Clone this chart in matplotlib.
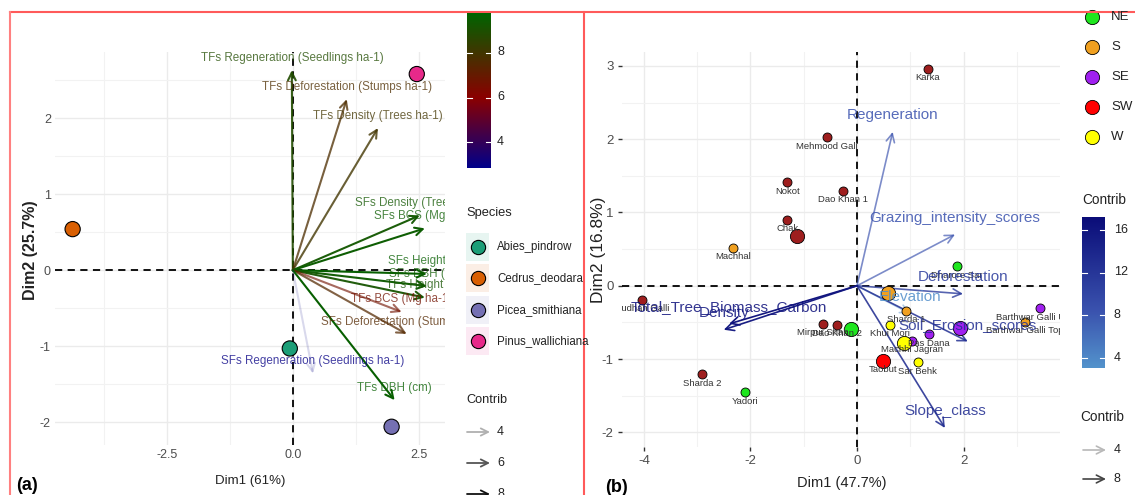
import numpy as np
import matplotlib
matplotlib.use('Agg')
import matplotlib.pyplot as plt
from matplotlib.colors import LinearSegmentedColormap, Normalize
from matplotlib.patches import Rectangle

plt.rcParams['font.family'] = ['Liberation Sans', 'DejaVu Sans']

# ---------------- panel (a): species ----------------
species = ['Abies_pindrow', 'Cedrus_deodara', 'Picea_smithiana', 'Pinus_wallichiana']
species_x = [-0.06, -4.37, 1.96, 2.46]
species_y = [-1.03, 0.54, -2.06, 2.58]
species_colors = ['#1B9E77', '#D95F02', '#7570B3', '#E7298A']

vars_a = ['TFs Regeneration (Seedlings ha-1)', 'TFs Deforestation (Stumps ha-1)',
          'TFs Density (Trees ha-1)', 'SFs Density (Trees ha-1)', 'SFs BCS (Mg ha-1)',
          'SFs Height (m)', 'SFs DBH (cm)', 'TFs Height (m)', 'TFs BCS (Mg ha-1)',
          'SFs Deforestation (Stumps ha-1)', 'TFs DBH (cm)', 'SFs Regeneration (Seedlings ha-1)']
vars_a_x = [-0.02, 1.07, 1.69, 2.52, 2.62, 2.66, 2.66, 2.62, 2.16, 2.26, 2.02, 0.40]
vars_a_y = [2.63, 2.25, 1.87, 0.72, 0.55, -0.05, -0.21, -0.36, -0.55, -0.84, -1.71, -1.36]
vars_a_contrib = [8.9, 7.7, 8.0, 9.3, 9.5, 9.6, 9.4, 9.2, 6.7, 7.5, 9.6, 3.0]

# ---------------- panel (b): sites ----------------
sites = ['Karka', 'Mehmood Gali', 'Nokot', 'Dao Khan 1', 'Chak', 'Sudhan Galli', 'Sharda 2',
         'Mirpur Shah', 'Dao Khan 2', 'Yadori', 'Dharore Sar', 'Machhal', 'Sharda 1',
         'Barthwar Galli Top', 'Pas Dana', 'Machhi Jagran', 'Barthwar Galli Upper',
         'Taobut', 'Khui Mori', 'Sar Behk']
sites_x = [1.33, -0.56, -1.31, -0.26, -1.31, -4.03, -2.91, -0.64, -0.38, -2.10, 1.87, -2.33,
           0.92, 3.15, 1.35, 1.03, 3.43, 0.49, 0.62, 1.14]
sites_y = [2.96, 2.03, 1.41, 1.30, 0.90, -0.19, -1.21, -0.52, -0.53, -1.45, 0.27, 0.52,
           -0.34, -0.49, -0.66, -0.75, -0.31, -1.02, -0.53, -1.04]
sites_aspect = ['N', 'N', 'N', 'N', 'N', 'N', 'N', 'N', 'N', 'NE', 'NE', 'S', 'S', 'S',
                'SE', 'SE', 'SE', 'SW', 'W', 'W']
aspects = ['N', 'NE', 'S', 'SE', 'SW', 'W']
aspect_colors = ['#9E1E1E', '#1EE61E', '#F0A020', '#A020F0', '#FF0000', '#FFFF00']

vars_b = ['Regeneration', 'Grazing_intensity_scores', 'Deforestation', 'Elevation',
          'Soil_Erosion_scores', 'Slope_class', 'Total_Tree_Biomass_Carbon', 'Density']
vars_b_x = [0.67, 1.84, 1.99, 1.00, 2.08, 1.65, -2.40, -2.50]
vars_b_y = [2.10, 0.70, -0.11, -0.38, -0.76, -1.94, -0.52, -0.60]
vars_b_contrib = [8.5, 8.5, 11.5, 3.5, 13.0, 13.5, 16.5, 16.0]

W, H = 1135, 495


def rect(l, t, r, b):
    return [l / W, 1 - b / H, (r - l) / W, (b - t) / H]


cmap_a = LinearSegmentedColormap.from_list(
    'a', [(0, '#00008B'), ((6 - 2.85) / (9.8 - 2.85), '#8B0000'), (1, '#006400')])
norm_a = Normalize(2.85, 9.8)
cmap_b = LinearSegmentedColormap.from_list(
    'b', [(0, '#5393CC'), (0.38, '#3A52AE'), (1, '#0A0C78')])
norm_b = Normalize(3.07, 17.2)

fig = plt.figure(figsize=(W / 100, H / 100), dpi=100)


def style_axes(ax, xmaj, xmin, ymaj, ymin, xlabels, ylabels, ticklen, fs):
    ax.set_facecolor('white')
    for s in ax.spines.values():
        s.set_visible(False)
    ax.set_xticks(xmaj)
    ax.set_xticks(xmin, minor=True)
    ax.set_yticks(ymaj)
    ax.set_yticks(ymin, minor=True)
    ax.set_xticklabels(xlabels)
    ax.set_yticklabels(ylabels)
    ax.grid(True, which='major', color='#EBEBEB', lw=1.0)
    ax.grid(True, which='minor', color='#F2F2F2', lw=0.8)
    ax.set_axisbelow(True)
    ax.tick_params(which='major', length=ticklen, width=1, color='#333333',
                   labelsize=fs, labelcolor='#4D4D4D', pad=3)
    ax.tick_params(which='minor', length=0)
    ax.axhline(0, color='black', ls=(0, (4, 3)), lw=1.3, zorder=2)
    ax.axvline(0, color='black', ls=(0, (4, 3)), lw=1.3, zorder=2)


# ---- panel (a)
ax1 = fig.add_axes(rect(55, 52, 445, 445))
ax1.set_xlim(-4.72, 3.02)
ax1.set_ylim(-2.30, 2.87)
style_axes(ax1, [-2.5, 0, 2.5], [-3.75, -1.25, 1.25], [-2, -1, 0, 1, 2],
           [-1.5, -0.5, 0.5, 1.5, 2.5], ['-2.5', '0.0', '2.5'], ['-2', '-1', '0', '1', '2'],
           0, 9)

ax1.scatter(species_x, species_y, s=120, c=species_colors, edgecolors='black',
            linewidths=0.8, zorder=4)
for name, x, y, c in zip(vars_a, vars_a_x, vars_a_y, vars_a_contrib):
    col = cmap_a(norm_a(c))
    alpha = 0.15 + 0.85 * (c - 3) / 6.6
    ax1.annotate('', xy=(x, y), xytext=(0, 0),
                 arrowprops=dict(arrowstyle='->', color=col, alpha=min(alpha, 1), lw=1.5,
                                 mutation_scale=14, shrinkA=0, shrinkB=0), zorder=3)
    ax1.annotate(name, xy=(x, y), xytext=(0, 9), textcoords='offset points', ha='center',
                 va='center', color=col, alpha=0.75, fontsize=8.4, clip_on=True, zorder=5)

# ---- panel (b)
ax2 = fig.add_axes(rect(622, 52, 1060, 447))
ax2.set_xlim(-4.41, 3.81)
ax2.set_ylim(-2.20, 3.19)
style_axes(ax2, [-4, -2, 0, 2], [-3, -1, 1, 3], [-2, -1, 0, 1, 2, 3],
           [-1.5, -0.5, 0.5, 1.5, 2.5], ['-4', '-2', '0', '2'],
           ['-2', '-1', '0', '1', '2', '3'], 3, 9.5)

sx = np.array(sites_x)
sy = np.array(sites_y)
sa = np.array(sites_aspect)
for asp, col in zip(aspects, aspect_colors):
    m = sa == asp
    ax2.scatter(sx[m], sy[m], s=42, c=col, edgecolors='black', linewidths=0.6, zorder=4)
    ax2.scatter(sx[m].mean(), sy[m].mean(), s=105, c=col, edgecolors='black',
                linewidths=0.6, zorder=4)
for name, x, y in zip(sites, sites_x, sites_y):
    ax2.annotate(name, xy=(x, y), xytext=(0, -6.5), textcoords='offset points', ha='center',
                 va='center', color='#333333', fontsize=6.8, clip_on=True, zorder=5)

for name, x, y, c in zip(vars_b, vars_b_x, vars_b_y, vars_b_contrib):
    col = cmap_b(norm_b(c))
    alpha = 0.45 + 0.55 * (c - 3) / 14
    ax2.annotate('', xy=(x, y), xytext=(0, 0),
                 arrowprops=dict(arrowstyle='->', color=col, alpha=alpha, lw=1.2,
                                 mutation_scale=15, shrinkA=0, shrinkB=0), zorder=3)
    ax2.annotate(name, xy=(x, y), xytext=(0, 12), textcoords='offset points', ha='center',
                 va='center', color=col, alpha=0.85, fontsize=11, clip_on=True, zorder=6)

# ---- overlay for titles, legends, borders
ov = fig.add_axes([0, 0, 1, 1], zorder=10)
ov.set_xlim(0, W)
ov.set_ylim(H, 0)
ov.axis('off')

ov.text(250, 481, 'Dim1 (61%)', ha='center', va='center', fontsize=9.5, color='#222222')
ov.text(31, 250, 'Dim2 (25.7%)', ha='center', va='center', rotation=90, fontsize=11.5,
        color='#222222', fontweight='bold')
ov.text(842, 483, 'Dim1 (47.7%)', ha='center', va='center', fontsize=10.5, color='#222222')
ov.text(598, 250, 'Dim2 (16.8%)', ha='center', va='center', rotation=90, fontsize=12.5,
        color='#222222')
ov.text(27, 486, '(a)', ha='center', va='center', fontsize=13, fontweight='bold')
ov.text(616, 488, '(b)', ha='center', va='center', fontsize=13, fontweight='bold')

# red borders
ov.plot([10, 1135], [12, 12], color='#FF5A5A', lw=1.5)
ov.plot([10, 10], [12, 495], color='#FF8080', lw=1.5)
ov.plot([584, 584], [12, 495], color='#FF5A5A', lw=1.5)

# colorbar (a)
cb1 = fig.add_axes(rect(467, 13, 491, 168), zorder=11)
grad = np.linspace(2.85, 9.8, 256).reshape(-1, 1)
cb1.imshow(grad, cmap=cmap_a, norm=norm_a, aspect='auto', origin='lower',
           extent=[0, 1, 2.85, 9.8])
cb1.set_ylim(2.85, 9.8)
cb1.set_xlim(0, 1)
cb1.axis('off')
for t in [4, 6, 8]:
    cb1.plot([0, 0.2], [t, t], color='white', lw=0.8)
    cb1.plot([0.8, 1], [t, t], color='white', lw=0.8)
    ov.text(497, 142 - (t - 4) * 22.5, str(t), ha='left', va='center', fontsize=9,
            color='#222222')

ov.text(466, 213, 'Species', ha='left', va='center', fontsize=9.3, color='#222222')
for i, (sp, col) in enumerate(zip(species, species_colors)):
    yc = 247 + i * 31.3
    ov.add_patch(Rectangle((466, yc - 14), 23, 28, facecolor=col, alpha=0.1, edgecolor='none'))
    ov.scatter([477.5], [yc], s=105, c=col, edgecolors='black', linewidths=0.8)
    ov.text(497, yc, sp, ha='left', va='center', fontsize=8.3, color='#222222')

ov.text(466, 400, 'Contrib', ha='left', va='center', fontsize=9.2, color='#222222')
for val, col, yc in zip(['4', '6', '8'], ['#B0B0B0', '#555555', '#111111'], [432, 463, 494]):
    ov.annotate('', xy=(490, yc), xytext=(467, yc),
                arrowprops=dict(arrowstyle='->', color=col, lw=1.3, mutation_scale=13,
                                shrinkA=0, shrinkB=0))
    ov.text(497, yc, val, ha='left', va='center', fontsize=9, color='#222222')

# legends (b): first key (N) lies above the cropped picture
for i, (asp, col) in enumerate(zip(aspects[1:], aspect_colors[1:])):
    yc = 17 + i * 30
    ov.scatter([1092], [yc], s=105, c=col, edgecolors='black', linewidths=0.6)
    ov.text(1111, yc, asp, ha='left', va='center', fontsize=9.5, color='#222222')

ov.text(1082, 200, 'Contrib', ha='left', va='center', fontsize=9.8, color='#222222')
cb2 = fig.add_axes(rect(1082, 217, 1105, 368), zorder=11)
grad2 = np.linspace(3.07, 17.2, 256).reshape(-1, 1)
cb2.imshow(grad2, cmap=cmap_b, norm=norm_b, aspect='auto', origin='lower',
           extent=[0, 1, 3.07, 17.2])
cb2.set_ylim(3.07, 17.2)
cb2.set_xlim(0, 1)
cb2.axis('off')
for t in [4, 8, 12, 16]:
    cb2.plot([0, 0.2], [t, t], color='white', lw=0.8)
    cb2.plot([0.8, 1], [t, t], color='white', lw=0.8)
    ov.text(1114, 358 - (t - 4) * 10.7, str(t), ha='left', va='center', fontsize=9,
            color='#222222')

ov.text(1080, 417, 'Contrib', ha='left', va='center', fontsize=9.8, color='#222222')
for val, col, yc in zip(['4', '8'], ['#B8B8B8', '#444444'], [450, 479]):
    ov.annotate('', xy=(1106, yc), xytext=(1083, yc),
                arrowprops=dict(arrowstyle='->', color=col, lw=1.2, mutation_scale=14,
                                shrinkA=0, shrinkB=0))
    ov.text(1114, yc, val, ha='left', va='center', fontsize=9, color='#222222')

fig.savefig('out.png', dpi=100)
